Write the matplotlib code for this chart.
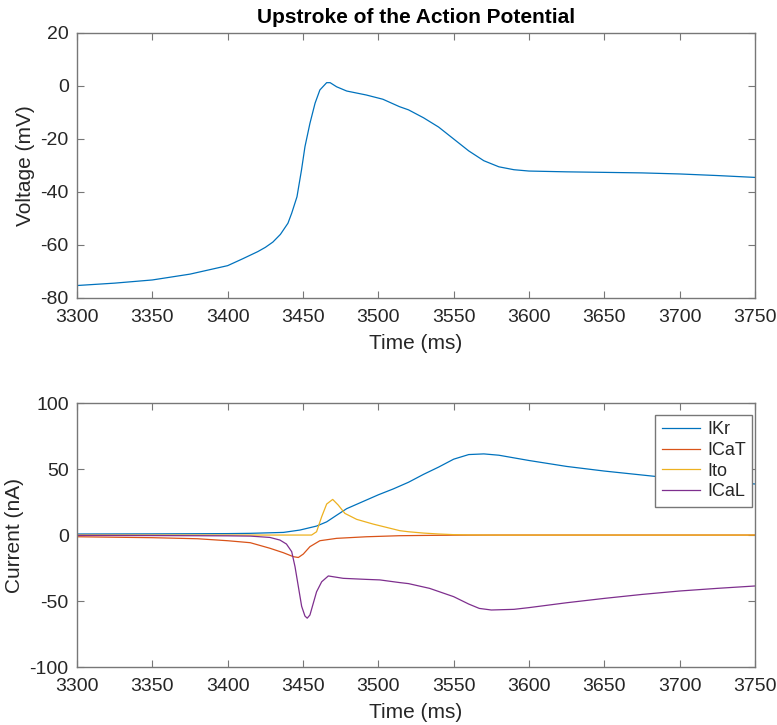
import matplotlib.pyplot as plt

plt.rcParams['font.family'] = ['Liberation Sans', 'DejaVu Sans']
plt.rcParams['axes.unicode_minus'] = False

# Membrane voltage during the upstroke
t_v = [3300, 3325, 3350, 3375, 3400, 3410, 3420, 3425, 3430, 3435, 3440, 3442.5,
       3446, 3449, 3451.3, 3454.6, 3458, 3461.2, 3465.7, 3468, 3472.3, 3479,
       3492, 3503, 3514, 3520, 3530, 3540, 3550, 3560, 3570, 3580, 3590, 3600,
       3625, 3650, 3675, 3700, 3725, 3750]
voltage = [-75.3, -74.4, -73.2, -71.0, -67.8, -65.2, -62.5, -60.9, -58.9, -56.0,
           -51.8, -48.0, -41.8, -31.7, -22.9, -14.1, -6.5, -1.5, 1.25, 1.25,
           -0.3, -1.9, -3.4, -5.0, -7.8, -9.0, -12.0, -15.5, -20.0, -24.5,
           -28.2, -30.5, -31.6, -32.1, -32.4, -32.6, -32.8, -33.2, -33.8, -34.5]

# Currents
t_ikr = [3300, 3350, 3400, 3415, 3437, 3448, 3459, 3465.7, 3472.3, 3479, 3492,
         3500, 3510, 3520, 3530, 3540, 3550, 3560, 3570, 3580, 3600, 3625, 3650,
         3675, 3700, 3725, 3750]
ikr = [0.8, 0.9, 1.1, 1.3, 2.0, 3.8, 6.8, 10.0, 15.0, 20.0, 26.5, 30.5, 35.0,
       40.0, 46.0, 51.5, 57.5, 61.0, 61.5, 60.5, 56.5, 52.0, 48.5, 45.5, 42.5,
       40.5, 38.7]

t_icat = [3300, 3350, 3380, 3400, 3415, 3428, 3437, 3443.6, 3446.9, 3450.2,
          3454.6, 3461.2, 3472.3, 3492, 3514, 3530, 3550, 3580, 3750]
icat = [-1.3, -2.0, -2.8, -4.3, -5.8, -10.0, -13.4, -16.4, -17.0, -14.4, -8.8,
        -4.3, -2.5, -1.3, -0.5, -0.3, -0.1, 0.0, 0.0]

t_ito = [3300, 3455.7, 3459, 3462.4, 3465.7, 3469.7, 3473.4, 3477.8, 3485.6,
         3496.6, 3514.3, 3520, 3530, 3540, 3550, 3560, 3580, 3750]
ito = [0.0, 0.0, 2.5, 13.9, 23.5, 27.0, 22.7, 16.4, 11.9, 8.3, 3.3, 2.5, 1.5,
       0.8, 0.3, 0.1, 0.0, 0.0]

t_ical = [3300, 3350, 3400, 3415, 3428, 3434.7, 3439, 3442.5, 3444.7, 3446.9,
          3449.1, 3451.3, 3452.8, 3454.6, 3456.8, 3459, 3462.4, 3466.8, 3470.1,
          3476.7, 3492, 3501, 3514, 3520, 3534, 3550, 3560, 3567, 3575, 3590,
          3600, 3625, 3650, 3675, 3700, 3725, 3750]
ical = [-0.3, -0.4, -0.6, -0.8, -1.8, -3.8, -6.8, -12.6, -24.0, -39.0, -54.0,
        -61.4, -63.0, -60.6, -51.8, -43.0, -35.4, -31.0, -31.6, -32.8, -33.6,
        -34.0, -36.0, -36.8, -40.4, -46.7, -52.3, -55.6, -56.8, -56.3, -55.0,
        -51.3, -48.0, -45.0, -42.4, -40.4, -38.6]

colors = ['#0072BD', '#D95319', '#EDB120', '#7E2F8E']
axis_color = '#777777'
text_color = '#262626'

fig = plt.figure(figsize=(7.77, 7.25), dpi=100)
ax1 = fig.add_axes([0.0991, 0.589, 0.8726, 0.3655])
ax2 = fig.add_axes([0.0991, 0.080, 0.8726, 0.364])


def style(ax):
    ax.set_xlim(3300, 3750)
    ax.set_xticks(range(3300, 3751, 50))
    ax.tick_params(direction='in', top=True, right=True, length=5, width=0.8,
                   color=axis_color, labelcolor=text_color, labelsize=14)
    ax.tick_params(axis='x', pad=8)
    ax.tick_params(axis='y', pad=6)
    for s in ax.spines.values():
        s.set_color(axis_color)
        s.set_linewidth(1.0)
    ax.set_xlabel('Time (ms)', fontsize=15, color=text_color, labelpad=6)


ax1.plot(t_v, voltage, color=colors[0], lw=0.9)
ax1.set_ylim(-80, 20)
ax1.set_yticks(range(-80, 21, 20))
style(ax1)
ax1.set_ylabel('Voltage (mV)', fontsize=15, color=text_color, labelpad=4)
ax1.set_title('Upstroke of the Action Potential', fontsize=15, fontweight='bold',
              pad=7)

ax2.plot(t_ikr, ikr, color=colors[0], lw=0.9, label='IKr')
ax2.plot(t_icat, icat, color=colors[1], lw=0.9, label='ICaT')
ax2.plot(t_ito, ito, color=colors[2], lw=0.9, label='Ito')
ax2.plot(t_ical, ical, color=colors[3], lw=0.9, label='ICaL')
ax2.set_ylim(-100, 100)
ax2.set_yticks(range(-100, 101, 50))
style(ax2)
ax2.set_ylabel('Current (nA)', fontsize=15, color=text_color, labelpad=4)

leg = ax2.legend(loc='upper right', bbox_to_anchor=(0.9956, 0.9545),
                 fontsize=13, fancybox=False, framealpha=1,
                 edgecolor=axis_color, handlelength=2.1, handletextpad=0.4,
                 labelspacing=0.2, borderpad=0.35, borderaxespad=0)
leg.get_frame().set_linewidth(1.0)
for txt in leg.get_texts():
    txt.set_color(text_color)

fig.savefig('out.png', dpi=100)
